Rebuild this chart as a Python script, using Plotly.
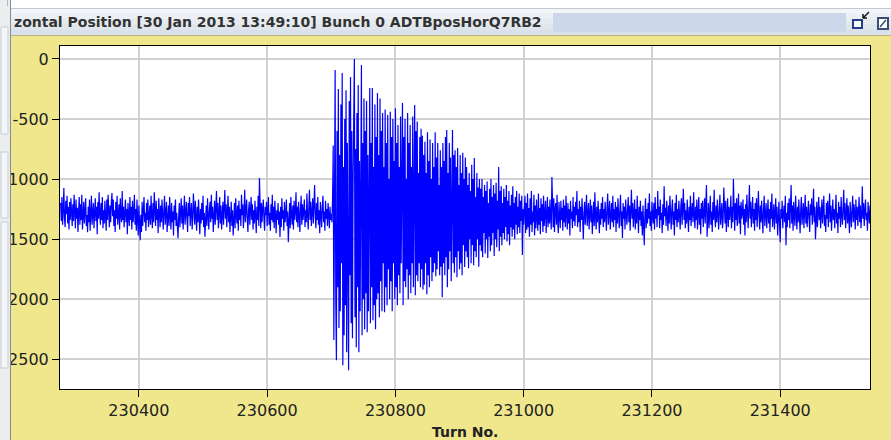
import plotly.graph_objects as go

# Horizontal bunch position (ADT pickup Q7 beam 2), bunch 0, one sample per turn
first_turn = 230278

pos_before = [
    -1200, -1350, -1150, -1380, -1260, -1075, -1330, -1400, -1180, -1290, -1140, -1370, -1230, -1420, -1190, -1340, -1160, -1310, -1390, -1210,
    -1350, -1130, -1300, -1410, -1170, -1330, -1240, -1440, -1270, -1150, -1380, -1210, -1340, -1130, -1420, -1280, -1190, -1370, -1250, -1160,
    -1390, -1300, -1442, -1230, -1360, -1170, -1430, -1260, -1140, -1380, -1300, -1200, -1410, -1280, -1160, -1350, -1230, -1460, -1190, -1330,
    -1110, -1290, -1380, -1200, -1340, -1150, -1410, -1260, -1370, -1180, -1310, -1430, -1170, -1340, -1130, -1290, -1400, -1220, -1360, -1200,
    -1117, -1310, -1170, -1390, -1260, -1440, -1190, -1330, -1140, -1380, -1280, -1210, -1420, -1160, -1300, -1360, -1100, -1340, -1230, -1400,
    -1280, -1170, -1360, -1250, -1460, -1200, -1310, -1390, -1150, -1340, -1230, -1420, -1180, -1360, -1270, -1130, -1380, -1250, -1430, -1170,
    -1330, -1470, -1220, -1410, -1510, -1300, -1440, -1190, -1390, -1260, -1150, -1360, -1280, -1430, -1200, -1340, -1170, -1400, -1290, -1220,
    -1380, -1140, -1300, -1410, -1200, -1360, -1110, -1280, -1390, -1180, -1340, -1250, -1450, -1160, -1300, -1400, -1220, -1360, -1170, -1310,
    -1420, -1250, -1140, -1380, -1280, -1190, -1440, -1330, -1220, -1390, -1150, -1300, -1420, -1200, -1360, -1270, -1470, -1220, -1340, -1170,
    -1390, -1280, -1450, -1492, -1320, -1200, -1400, -1260, -1160, -1370, -1220, -1420, -1300, -1140, -1380, -1250, -1190, -1330, -1440, -1200,
    -1310, -1150, -1390, -1270, -1200, -1420, -1330, -1120, -1260, -1380, -1180, -1300, -1430, -1230, -1360, -1170, -1280, -1460, -1250, -1370,
    -1200, -1340, -1140, -1400, -1280, -1480, -1350, -1220, -1390, -1160, -1300, -1420, -1260, -1190, -1360, -1130, -1330, -1230, -1440, -1280,
    -1180, -1380, -1250, -1100, -1340, -1200, -1410, -1300, -1150, -1370, -1220, -1420, -1280, -1190, -1380, -1260, -1092, -1330, -1210, -1400,
    -1280, -1140, -1360, -1230, -1440, -1300, -1190, -1390, -1260, -1470, -1330, -1200, -1410, -1160, -1300, -1370, -1220, -1430, -1180, -1340,
    -1250, -1390, -1130, -1300, -1210, -1410, -1280, -1090, -1360, -1230, -1170, -1330, -1440, -1260, -1190, -1380, -1280, -1150, -1340, -1210,
    -1420, -1260, -1370, -1180, -1300, -1450, -1230, -1340, -1140, -1390, -992, -1280, -1410, -1200, -1360, -1250, -1170, -1330, -1430, -1230,
    -1300, -1190, -1390, -1260, -1150, -1380, -1280, -1430, -1210, -1340, -1130, -1360, -1230, -1410, -1180, -1300, -1450, -1260, -1340, -1200,
    -1380, -1270, -1483, -1230, -1400, -1160, -1330, -1260, -1430, -1190, -1360, -1290, -1170, -1390, -1270, -1525, -1320, -1200, -1410, -1150,
    -1300, -1380, -1220, -1420, -1180, -1340, -1270, -1110, -1360, -1230, -1400, -1190, -1300, -1440, -1250, -1140, -1380, -1210, -1340, -1280,
    -1170, -1400, -1260, -1360, -1120, -1300, -1420, -1230, -1090, -1340, -1190, -1390, -1270, -1160, -1370, -1250, -1050, -1310, -1410, -1200,
    -1340, -1150, -1380, -1260, -1450, -1190, -1300, -1400, -1230, -1140, -1360, -1270, -1430, -1180, -1330, -1250, -1390, -1200, -1300, -1410,
    -1230, -1340, -1290, -1360,
]

# Injection kick: large coherent oscillation, damped by the transverse feedback
pos_kick = [
    -1150, -720, -2340, -400, -92, -2000, -2508, -600, -1900, -250,
    -2240, -800, -2100, -380, -1700, -117, -2550, -900, -2300, -500,
    -2050, -260, -2442, -700, -1950, -2592, -350, -1800, -150, -2200,
    -600, -2325, -1000, -300, 0, -2150, -750, -2400, -450, -1900,
    -217, -2442, -850, -2100, -400, -50, -2300, -700, -2000, -330,
    -2250, -600, -1950, -350, -2275, -800, -2100, -500, -242, -2200,
    -700, -1900, -242, -2175, -900, -2050, -380, -2250, -650, -2000,
    -283, -1950, -800, -2150, -330, -1850, -600, -2100, -450, -1700,
    -900, -2108, -420, -1900, -700, -2050, -467, -1750, -1000, -2000,
    -440, -1850, -650, -2100, -500, -1700, -850, -2000, -410, -1900,
    -700, -2050, -550, -1800, -900, -1950, -480, -1700, -800, -367,
    -2050, -650, -1850, -500, -1900, -1000, -1750, -450, -2000, -700,
    -1800, -550, -1950, -900, -1700, -480, -1900, -750, -383, -1967,
    -600, -1800, -520, -1850, -950, -1700, -650, -1900, -580, -1750,
    -640, -1920, -800, -1880, -690, -1700, -950, -1960, -610, -1800,
    -850, -1900, -670, -1650, -1000, -1850, -700, -1775, -900, -1700,
    -610, -1810, -820, -1750, -700, -1600, -1050, -1800, -760, -1730,
    -900, -1983, -700, -1700, -850, -1800, -650, -1650, -592, -1900,
    -950, -1750, -700, -1600, -820, -1850, -1000, -592, -1700, -800,
    -1780, -760, -1650, -900, -1817, -742, -1600, -1050, -1750, -800,
    -1700, -950, -1800, -780, -1550, -1000, -1733, -820, -1600, -900,
    -1650, -1050, -1742, -950, -1500, -1100, -1700, -880, -1550, -1000,
    -1717, -825, -1600, -1150, -1650, -950, -1500, -1070, -1730, -1000,
    -1550, -1080, -1600, -1000, -1650, -1150, -1450, -1050, -1620, -1100,
    -1500, -1020, -1658, -1200, -1480, -1080, -1600, -1000, -1550, -1150,
    -1450, -1050, -1640, -1120, -1500, -1030, -1567, -1180, -1420, -900,
    -1600, -1100, -1480, -1060, -1550, -1200, -1450, -1080, -1500, -1150,
    -1400, -1050, -1520, -1180, -1460, -1100, -1550, -1220, -1400, -1130,
    -1480, -1060, -1420, -1200, -1500, -1150, -1380, -1100, -1460, -1230,
    -1400, -1120, -1450, -1180, -1350, -1140, -1633, -1250, -1380, -1200,
]

pos_after = [
    -1140, -1450, -1200, -1420, -1120, -1400, -1240, -1480, -1160, -1380, -1100, -1440, -1270, -1360, -1130, -1470, -1220, -1410, -1170, -1330,
    -1430, -1120, -1380, -1240, -1460, -1160, -1350, -1210, -1440, -1140, -1390, -1290, -1180, -1450, -1250, -1150, -1400, -1230, -1370, -1170,
    -1330, -1420, -983, -1270, -1400, -1160, -1440, -1250, -1200, -1380, -1130, -1350, -1450, -1190, -1300, -1410, -1180, -1340, -1240, -1430,
    -1170, -1360, -1220, -1400, -1140, -1300, -1420, -1200, -1370, -1250, -1470, -1180, -1330, -1270, -1410, -1150, -1350, -1230, -1390, -1190,
    -1300, -1100, -1400, -1250, -1360, -1180, -1440, -1230, -1340, -1160, -1410, -1500, -1280, -1190, -1380, -1250, -1130, -1390, -1290, -1200,
    -1420, -1270, -1170, -1360, -1220, -1460, -1330, -1190, -1390, -1110, -1300, -1420, -1230, -1360, -1180, -1280, -1450, -1250, -1380, -1200,
    -1330, -1150, -1400, -1250, -1360, -1190, -1300, -1430, -1230, -1120, -1380, -1270, -1180, -1420, -1290, -1200, -1360, -1140, -1400, -1250,
    -1340, -1190, -1440, -1230, -1370, -1160, -1300, -1410, -1250, -1130, -1390, -1270, -1490, -1200, -1330, -1230, -1420, -1170, -1300, -1380,
    -1250, -1150, -1360, -1220, -1430, -1280, -1090, -1330, -1200, -1400, -1300, -1170, -1420, -1250, -1370, -1140, -1300, -1450, -1230, -1340,
    -1180, -1390, -1270, -1470, -1220, -1360, -1550, -1290, -1160, -1410, -1250, -1370, -1200, -1330, -1120, -1390, -1270, -1430, -1190, -1310,
    -1370, -1200, -1420, -1150, -1330, -1250, -1400, -1100, -1300, -1230, -1410, -1170, -1340, -1280, -1450, -1210, -1380, -1060, -1310, -1240,
    -1390, -1180, -1330, -1430, -1220, -1370, -1140, -1300, -1420, -1250, -1170, -1380, -1270, -1470, -1200, -1340, -1130, -1400, -1250, -1360,
    -1180, -1300, -1420, -1230, -1160, -1380, -1280, -1080, -1340, -1200, -1410, -1260, -1370, -1170, -1310, -1440, -1230, -1340, -1140, -1390,
    -1270, -1200, -1360, -1110, -1300, -1410, -1230, -1340, -1170, -1420, -1280, -1150, -1380, -1250, -1460, -1200, -1330, -1180, -1400, -1270,
    -1160, -1370, -1230, -1050, -1480, -1300, -1200, -1410, -1260, -1140, -1380, -1270, -1440, -1190, -1340, -1090, -1310, -1400, -1220, -1360,
    -1170, -1300, -1420, -1250, -1130, -1380, -1280, -1200, -1410, -1330, -1070, -1260, -1370, -1180, -1440, -1300, -1160, -1400, -1230, -1340,
    -1280, -1140, -1410, -1230, -1360, -1000, -1310, -1430, -1200, -1340, -1160, -1390, -1260, -1120, -1370, -1220, -1460, -1190, -1330, -1280,
    -1170, -1380, -1250, -1470, -1210, -1360, -1130, -1300, -1410, -1230, -1050, -1330, -1190, -1400, -1280, -1150, -1370, -1250, -1430, -1200,
    -1340, -1160, -1400, -1270, -1100, -1310, -1420, -1220, -1360, -1180, -1330, -1450, -1250, -1140, -1390, -1280, -1200, -1410, -1300, -1170,
    -1370, -1250, -1440, -1190, -1330, -1120, -1400, -1270, -1210, -1420, -1300, -1160, -1370, -1230, -1470, -1280, -1190, -1380, -1525, -1250,
    -1330, -1180, -1410, -1290, -1220, -1360, -1140, -1550, -1280, -1400, -1200, -1340, -1160, -1410, -1250, -1050, -1370, -1220, -1430, -1190,
    -1300, -1390, -1140, -1270, -1420, -1230, -1360, -1170, -1300, -1450, -1250, -1150, -1380, -1270, -1200, -1410, -1320, -1130, -1370, -1230,
    -1400, -1260, -1180, -1330, -1440, -1210, -1300, -1160, -1380, -1270, -1080, -1360, -1230, -1500, -1300, -1190, -1400, -1250, -1150, -1340,
    -1230, -1410, -1280, -1170, -1370, -1250, -1140, -1390, -1300, -1440, -1200, -1330, -1180, -1400, -1270, -1120, -1360, -1220, -1430, -1300,
    -1170, -1340, -1250, -1410, -1200, -1130, -1370, -1280, -1450, -1190, -1330, -1230, -1400, -1150, -1300, -1380, -1250, -1090, -1340, -1200,
    -1410, -1280, -1160, -1370, -1220, -1330, -1450, -1190, -1300, -1400, -1250, -1140, -1360, -1210, -1290, -1420, -1170, -1340, -1230, -1390,
    -1270, -1150, -1360, -1220, -1410, -1300, -1060, -1330, -1200, -1390, -1260, -1170, -1340, -1280, -1430, -1190, -1300, -1370, -1220, -1330,
]

x_ticks = [230400, 230600, 230800, 231000, 231200, 231400]
y_ticks = [0, -500, -1000, -1500, -2000, -2500]
x_range = [230277, 231540]
y_range = [-2748, 108]

window_title = "zontal Position [30 Jan 2013 13:49:10] Bunch 0 ADTBposHorQ7RB2"
x_title = "Turn No."

position = pos_before + pos_kick + pos_after
turns = list(range(first_turn, first_turn + len(position)))

W, H = 891, 440
L, R, T, B = 60, 870, 46, 389          # plot area in pixels


def fx(px):
    return (px - L) / (R - L)


def fy(py):
    return (B - py) / (B - T)


def rect(x0, y0, x1, y1, fill, line_color=None, line_width=0):
    return dict(type="rect", xref="paper", yref="paper", layer="above",
                x0=fx(x0), x1=fx(x1), y0=fy(y1), y1=fy(y0),
                fillcolor=fill,
                line=dict(color=line_color or fill, width=line_width))


def seg(x0, y0, x1, y1, color, width=1):
    return dict(type="line", xref="paper", yref="paper", layer="above",
                x0=fx(x0), x1=fx(x1), y0=fy(y0), y1=fy(y1),
                line=dict(color=color, width=width))


fig = go.Figure()
fig.add_trace(go.Scatter(
    x=turns, y=position, mode="lines",
    line=dict(color="#0000FF", width=1.2),
    hoverinfo="skip",
))

shapes = []
# window frame: top strip, left panel strip
shapes.append(rect(0, 0, W, 8, "#FFFFFF"))
shapes.append(rect(0, 0, 10, H, "#ECEDEF"))
shapes.append(rect(1, 27, 8, 134, "#F4F5F7", "#C9CED6", 1))
shapes.append(rect(1, 152, 8, 218, "#F4F5F7", "#C9CED6", 1))
shapes.append(rect(1, 222, 8, 368, "#F4F5F7", "#C9CED6", 1))
shapes.append(seg(10.5, 0, 10.5, H, "#7E8B99", 1))
shapes.append(seg(7.5, 0, 7.5, 6, "#B0B8C2", 1))
# internal frame title bar (banded gradient)
bands = ["#F3F6F9", "#ECF0F5", "#E6EBF1", "#E0E6EE", "#DAE1EA"]
bh = 27 / len(bands)
for i, c in enumerate(bands):
    shapes.append(rect(11, 8 + i * bh, W, 8 + (i + 1) * bh + 0.5, c))
shapes.append(seg(11, 8.5, W, 8.5, "#C3CAD3", 1))
shapes.append(seg(11, 35.5, W, 35.5, "#B9B27A", 1))
# dotted grip area in title bar
shapes.append(rect(553, 13, 846, 32, "#CDD7EA"))
# iconify / maximize buttons
shapes.append(rect(853, 20, 862, 28, "#FFFFFF", "#233F86", 2))
shapes.append(seg(869, 12, 863, 18, "#111111", 1.5))
shapes.append(seg(863, 18, 863, 14, "#111111", 1.5))
shapes.append(seg(863, 18, 867, 18, "#111111", 1.5))
shapes.append(rect(878, 18, 888, 29, "#FFFFFF", "#3A4F78", 2))
shapes.append(seg(880, 27, 886, 20, "#3A4F78", 1.5))

annotations = [
    dict(text="<b>" + window_title + "</b>", xref="paper", yref="paper",
         x=fx(12), y=fy(21.5), xanchor="left", yanchor="middle",
         showarrow=False, font=dict(family="DejaVu Sans", size=14, color="#333333")),
    dict(text="<b>" + x_title + "</b>", xref="paper", yref="paper",
         x=fx(465), y=fy(432), xanchor="center", yanchor="middle",
         showarrow=False, font=dict(family="DejaVu Sans", size=14, color="#222222")),
]

axis_common = dict(
    showline=True, linecolor="#000000", linewidth=1, mirror=True,
    ticks="outside", ticklen=7, tickwidth=1, tickcolor="#000000",
    showgrid=True, gridcolor="#D2D2D2", gridwidth=1.5,
    zeroline=False, automargin=False,
    tickfont=dict(family="DejaVu Sans", size=16, color="#222222"),
)

fig.update_layout(
    width=W, height=H,
    margin=dict(l=L, r=W - R, t=T, b=H - B, pad=0),
    paper_bgcolor="#F0E68C",
    plot_bgcolor="#FFFFFF",
    showlegend=False,
    xaxis=dict(range=x_range, tickvals=x_ticks, ticktext=[str(v) for v in x_ticks],
               **axis_common),
    yaxis=dict(range=y_range, tickvals=y_ticks, ticktext=[str(v) for v in y_ticks],
               **axis_common),
    shapes=shapes,
    annotations=annotations,
)

fig.write_html("out.html", config={"displayModeBar": False})
